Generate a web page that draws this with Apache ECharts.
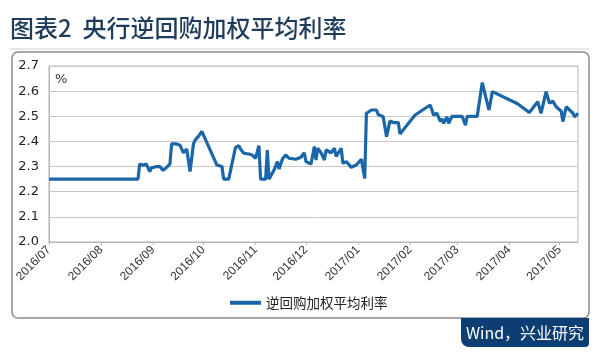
<!DOCTYPE html>
<html>
<head>
<meta charset="utf-8">
<script src="https://cdn.jsdelivr.net/npm/echarts@6/dist/echarts.min.js"></script>
<style>
html,body{margin:0;padding:0;background:#fff;}
#c{width:600px;height:357px;}
</style>
</head>
<body>
<div id="c"></div>
<script>
var titleText = '图表2  央行逆回购加权平均利率';
var seriesName = '逆回购加权平均利率';
var sourceText = 'Wind，兴业研究';
var unitText = '%';
var dates = [
'2016-07-01','2016-08-23','2016-08-24','2016-08-26','2016-08-28','2016-08-30','2016-08-31',
'2016-09-01','2016-09-03','2016-09-05','2016-09-07','2016-09-09','2016-09-11','2016-09-12',
'2016-09-15','2016-09-17','2016-09-19','2016-09-21','2016-09-23','2016-09-25','2016-09-26',
'2016-09-28','2016-09-30',
'2016-10-09','2016-10-12','2016-10-13','2016-10-16','2016-10-20','2016-10-22','2016-10-23',
'2016-10-25','2016-10-28','2016-10-30',
'2016-11-01','2016-11-02','2016-11-03','2016-11-04','2016-11-07','2016-11-08','2016-11-09',
'2016-11-10','2016-11-12','2016-11-14','2016-11-15','2016-11-17','2016-11-19','2016-11-21',
'2016-11-25','2016-11-28','2016-11-30',
'2016-12-01','2016-12-04','2016-12-06','2016-12-07','2016-12-08','2016-12-10','2016-12-12',
'2016-12-13','2016-12-16','2016-12-18','2016-12-19','2016-12-22','2016-12-23','2016-12-25',
'2016-12-28','2016-12-31',
'2017-01-03','2017-01-05','2017-01-06','2017-01-09','2017-01-12','2017-01-13','2017-01-16',
'2017-01-18','2017-01-20','2017-01-22','2017-01-25','2017-01-26',
'2017-02-04','2017-02-13','2017-02-15','2017-02-17','2017-02-19','2017-02-20','2017-02-21',
'2017-02-23','2017-02-24','2017-02-26',
'2017-03-04','2017-03-06','2017-03-07','2017-03-13','2017-03-16','2017-03-18','2017-03-20',
'2017-03-22',
'2017-04-06','2017-04-13','2017-04-18','2017-04-20','2017-04-23','2017-04-25','2017-04-27',
'2017-04-29',
'2017-05-02','2017-05-03','2017-05-05','2017-05-09','2017-05-10','2017-05-12'
];
var rates = [
2.25,2.25,2.31,2.305,2.31,2.28,2.295,
2.29,2.30,2.30,2.285,2.297,2.31,2.39,
2.39,2.385,2.355,2.37,2.28,2.39,2.405,
2.42,2.44,
2.306,2.30,2.25,2.25,2.375,2.383,2.37,
2.353,2.35,2.346,
2.333,2.34,2.383,2.25,2.25,2.366,2.25,
2.25,2.286,2.32,2.29,2.33,2.346,2.333,
2.329,2.337,2.355,
2.32,2.31,2.38,2.326,2.373,2.355,2.326,
2.366,2.355,2.373,2.34,2.373,2.313,2.32,
2.297,2.306,
2.329,2.253,2.512,2.525,2.525,2.507,2.498,
2.419,2.481,2.475,2.475,2.43,
2.505,2.545,2.505,2.512,2.48,2.49,2.472,
2.498,2.472,2.50,
2.50,2.465,2.50,2.50,2.634,2.578,2.525,
2.598,
2.55,2.515,2.558,2.512,2.598,2.552,2.56,
2.538,
2.52,2.479,2.538,2.512,2.498,2.512
];
var monthTicks = ['2016-07-01','2016-08-01','2016-09-01','2016-10-01','2016-11-01','2016-12-01',
'2017-01-01','2017-02-01','2017-03-01','2017-04-01','2017-05-01'];
var tickLabels = ['2016/07','2016/08','2016/09','2016/10','2016/11','2016/12',
'2017/01','2017/02','2017/03','2017/04','2017/05'];
var xStart = '2016-07-01', xEnd = '2017-05-12';
var yMin = 2.0, yMax = 2.7, yStep = 0.1;

function ts(s){var p=s.split('-');return Date.UTC(+p[0],+p[1]-1,+p[2]);}
var tickTs = monthTicks.map(ts);
var data = dates.map(function(d,i){return [ts(d), rates[i]];});

var chart = echarts.init(document.getElementById('c'));
chart.setOption({
  animation: false,
  backgroundColor: '#fff',
  grid: {left: 49, right: 22, top: 66, bottom: 115, show: true, borderColor: '#b5b5b5', borderWidth: 1},
  legend: {
    left: 225, top: 291, itemWidth: 31, itemHeight: 4, icon: 'rect', itemGap: 4,
    textStyle: {fontFamily: 'Noto Sans CJK SC', fontSize: 13.5, color: '#222'},
    data: [seriesName]
  },
  xAxis: {
    type: 'value', min: ts(xStart), max: ts(xEnd), scale: true,
    axisLine: {lineStyle: {color: '#b5b5b5', width: 1}},
    axisTick: {show: true, customValues: tickTs, length: 3, lineStyle: {color: '#b5b5b5'}},
    splitLine: {show: false},
    axisLabel: {
      customValues: tickTs, rotate: 45, fontSize: 12, color: '#333', margin: 6,
      fontFamily: 'Liberation Sans',
      formatter: function(v){var i=tickTs.indexOf(v);return i>=0?tickLabels[i]:'';}
    }
  },
  yAxis: {
    type: 'value', min: yMin, max: yMax, interval: yStep,
    axisLine: {show: true, lineStyle: {color: '#b5b5b5'}},
    axisTick: {show: false},
    splitLine: {lineStyle: {color: '#c8c8c8', width: 1}},
    axisLabel: {fontSize: 13, color: '#222', margin: 10, fontFamily: 'DejaVu Sans',
      formatter: function(v){return v.toFixed(1);}}
  },
  series: [{
    name: seriesName, type: 'line', data: data, showSymbol: false, symbol: 'none',
    lineStyle: {color: '#1a66a8', width: 3.2}, itemStyle: {color: '#1a66a8'}
  }],
  graphic: [
    {type: 'text', left: 10, top: 16, style: {text: titleText, fontSize: 24, fontFamily: 'Noto Sans CJK SC', fontWeight: 500, fill: '#1f3c5a'}},
    {type: 'line', shape: {x1: 10, y1: 49, x2: 590, y2: 49}, style: {stroke: '#cfcfcf', lineWidth: 1}},
    {type: 'rect', shape: {x: 12, y: 52, width: 577, height: 266, r: 6}, style: {fill: 'none', stroke: '#8c8c8c', lineWidth: 1.5}, z: -1},
    {type: 'text', left: 55, top: 73, style: {text: unitText, fontSize: 13, fontFamily: 'DejaVu Sans', fill: '#333'}},
    {type: 'rect', shape: {x: 461, y: 318, width: 128, height: 29, r: [0, 0, 4, 8]}, style: {fill: '#0c3e74'}},
    {type: 'text', x: 525, y: 332.5, style: {text: sourceText, fontSize: 16, fontFamily: 'Noto Sans CJK SC', fill: '#fff', align: 'center', verticalAlign: 'middle'}}
  ]
});
</script>
</body>
</html>
